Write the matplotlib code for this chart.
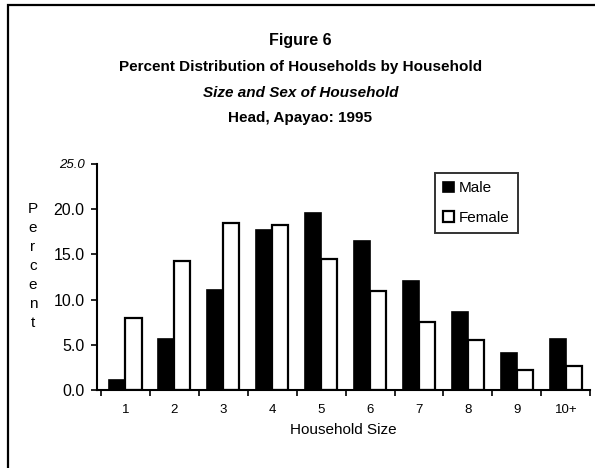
#!/usr/bin/env python3
"""Figure 6 - household size by sex of household head, Apayao 1995."""

import matplotlib.pyplot as plt
import numpy as np
from matplotlib.patches import Rectangle

plt.rcParams["font.family"] = ["Liberation Sans", "DejaVu Sans"]

sizes = ["1", "2", "3", "4", "5", "6", "7", "8", "9", "10+"]
male = [1.1, 5.6, 11.1, 17.7, 19.6, 16.5, 12.1, 8.6, 4.1, 5.6]
female = [8.0, 14.3, 18.5, 18.3, 14.5, 11.0, 7.5, 5.5, 2.2, 2.6]
yticks = [0.0, 5.0, 10.0, 15.0, 20.0, 25.0]


def main() -> None:
    fig = plt.figure(figsize=(5.95, 4.68), dpi=100)
    ax = fig.add_axes([0.163, 0.1667, 0.829, 0.483])

    # frame around the whole chart (cut off on the right and bottom in the scan)
    fig.patches.append(Rectangle((8 / 595, -0.05), 1.2, 1 - 5 / 468 + 0.05,
                                 transform=fig.transFigure, fill=False,
                                 lw=1.6, ec="black"))

    x = np.arange(len(sizes))
    w = 0.33
    ax.bar(x - w / 2, male, w, color="black", ec="black", lw=1.2, label="Male")
    ax.bar(x + w / 2, female, w, color="white", ec="black", lw=1.6, label="Female")

    ax.set_xlim(-0.58, 9.5)
    ax.set_ylim(0, 25)
    ax.set_yticks(yticks)
    ax.set_yticklabels([f"{v:.1f}" for v in yticks], fontsize=11.5)
    # the top label is printed smaller and slanted in the original
    top = ax.get_yticklabels()[-1]
    top.set_fontsize(9.5)
    top.set_style("italic")
    ax.set_xticks(x)
    ax.set_xticklabels(sizes, fontsize=9.5)
    ax.set_xticks(np.arange(-0.5, 10, 1), minor=True)
    ax.tick_params(axis="x", which="major", length=0, pad=10)
    ax.tick_params(axis="x", which="minor", length=4, width=1.2, direction="out")
    ax.tick_params(axis="y", length=4, width=1.2, direction="out", pad=5)
    for s in ("top", "right"):
        ax.spines[s].set_visible(False)
    for s in ("left", "bottom"):
        ax.spines[s].set_linewidth(1.5)

    ax.set_xlabel("Household Size", fontsize=11, labelpad=5)

    # vertical stacked y label
    for i, ch in enumerate("Percent"):
        fig.text(33 / 595, 1 - (209 + i * 19) / 468, ch, fontsize=11,
                 ha="center", va="center")

    leg = ax.legend(loc="upper left", bbox_to_anchor=(0.685, 0.96), fontsize=11,
                    frameon=True, fancybox=False, edgecolor="black",
                    handlelength=0.7, handleheight=0.7, handletextpad=0.3,
                    borderpad=0.55, labelspacing=1.0, borderaxespad=0)
    leg.get_frame().set_linewidth(1.4)

    fig.text(0.505, 1 - 40 / 468, "Figure 6", fontsize=11.5, fontweight="bold",
             ha="center", va="center")
    fig.text(0.505, 1 - 67 / 468, "Percent Distribution of Households by Household",
             fontsize=11, fontweight="bold", ha="center", va="center")
    fig.text(0.505, 1 - 93 / 468, "Size and Sex of Household", fontsize=11,
             fontweight="bold", style="italic", ha="center", va="center")
    fig.text(0.505, 1 - 118 / 468, "Head, Apayao: 1995", fontsize=11,
             fontweight="bold", ha="center", va="center")

    fig.savefig("out.png", dpi=100)
    plt.close(fig)


if __name__ == "__main__":
    main()
